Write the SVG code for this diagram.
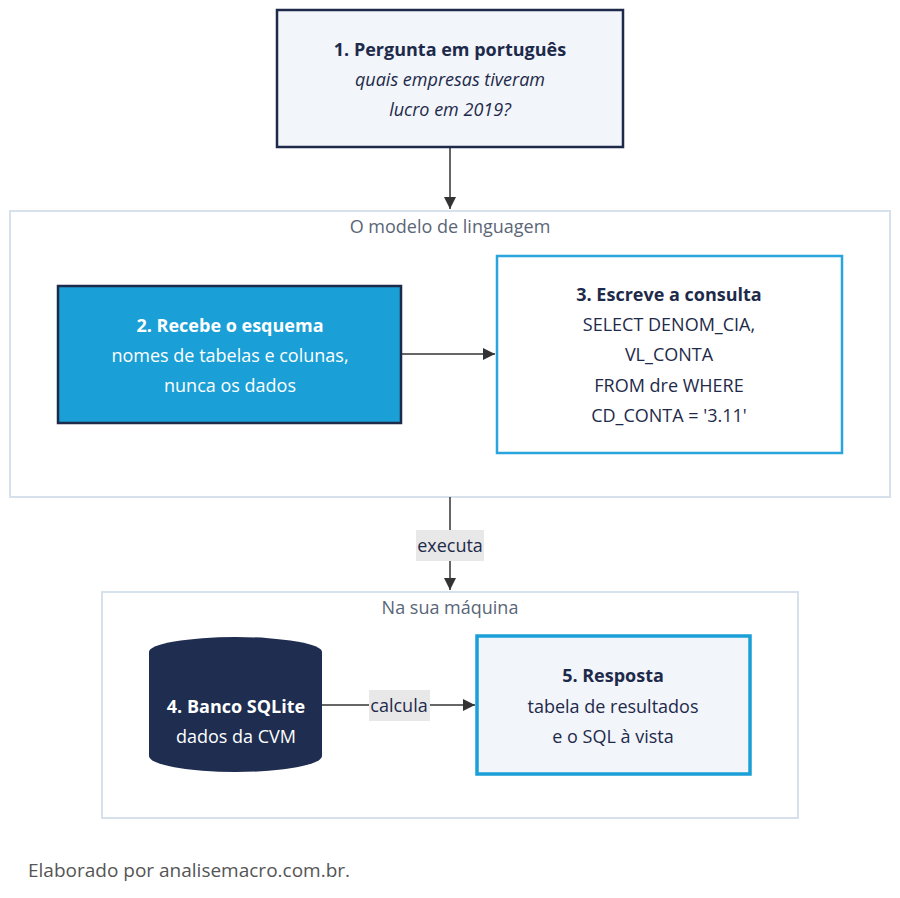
<svg xmlns="http://www.w3.org/2000/svg" width="900" height="898" viewBox="0 0 900 898">
<style>
text{font-family:"Open Sans","Noto Sans",sans-serif;font-size:18px;text-anchor:middle;fill:#1e2a4a}
.b{font-weight:bold}
.w{fill:#fff}
.cl{fill:#fff;stroke:#d6e1eb;stroke-width:2}
.ct{fill:#5a6677}
.e{stroke:#333;stroke-width:1.5;fill:none}
.lb{fill:#e8e8e8}
</style>
<defs><marker id="a" viewBox="0 0 10 10" refX="10" refY="5" markerWidth="8" markerHeight="8" orient="auto"><path d="M0,0L10,5L0,10z" fill="#333"/></marker></defs>
<rect width="900" height="898" fill="#fff"/>
<g id="cluster1"><rect class="cl" x="10" y="211" width="880" height="286"/><text class="ct" x="450" y="233">O modelo de linguagem</text></g>
<g id="cluster2"><rect class="cl" x="102" y="592" width="696" height="226"/><text class="ct" x="450" y="614">Na sua máquina</text></g>
<g id="connectors">
<path class="e" d="M450,147V209" marker-end="url(#a)"/>
<path class="e" d="M401,354H495" marker-end="url(#a)"/>
<path class="e" d="M450,497V590" marker-end="url(#a)"/>
<rect class="lb" x="416" y="530" width="68" height="31"/><text x="450" y="552">executa</text>
<path class="e" d="M322,705H475" marker-end="url(#a)"/>
<rect class="lb" x="369" y="690" width="61" height="31"/><text x="399" y="712">calcula</text>
</g>
<g id="n1"><rect x="277" y="10" width="346" height="137" fill="#f2f5fa" stroke="#1e2a4a" stroke-width="2.5"/>
<text class="b" x="450" y="56">1. Pergunta em português</text>
<text x="450" y="86" font-style="italic">quais empresas tiveram</text>
<text x="450" y="116" font-style="italic">lucro em 2019?</text></g>
<g id="n2"><rect x="58" y="286" width="343" height="137" fill="#1a9fd6" stroke="#1e2a4a" stroke-width="2.5"/>
<text class="b w" x="230" y="332">2. Recebe o esquema</text>
<text class="w" x="230" y="362">nomes de tabelas e colunas,</text>
<text class="w" x="230" y="392">nunca os dados</text></g>
<g id="n3"><rect x="497" y="256" width="345" height="197" fill="#fff" stroke="#2aa4dc" stroke-width="2.5"/>
<text class="b" x="669" y="301">3. Escreve a consulta</text>
<text x="669" y="331">SELECT DENOM_CIA,</text>
<text x="669" y="361">VL_CONTA</text>
<text x="669" y="392">FROM dre WHERE</text>
<text x="669" y="422">CD_CONTA = '3.11'</text></g>
<g id="n4"><path d="M149,652A86.5,15 0 0 1 322,652V756A86.5,16 0 0 1 149,756Z" fill="#1e2d50"/>
<text class="b w" x="236" y="713">4. Banco SQLite</text>
<text class="w" x="236" y="743">dados da CVM</text></g>
<g id="n5"><rect x="477" y="636" width="273" height="138" fill="#f2f5fa" stroke="#1a9fd6" stroke-width="3.5"/>
<text class="b" x="613" y="682">5. Resposta</text>
<text x="613" y="713">tabela de resultados</text>
<text x="613" y="743">e o SQL à vista</text></g>
<text x="28" y="877" style="text-anchor:start;fill:#555;font-size:19px">Elaborado por analisemacro.com.br.</text>
</svg>
